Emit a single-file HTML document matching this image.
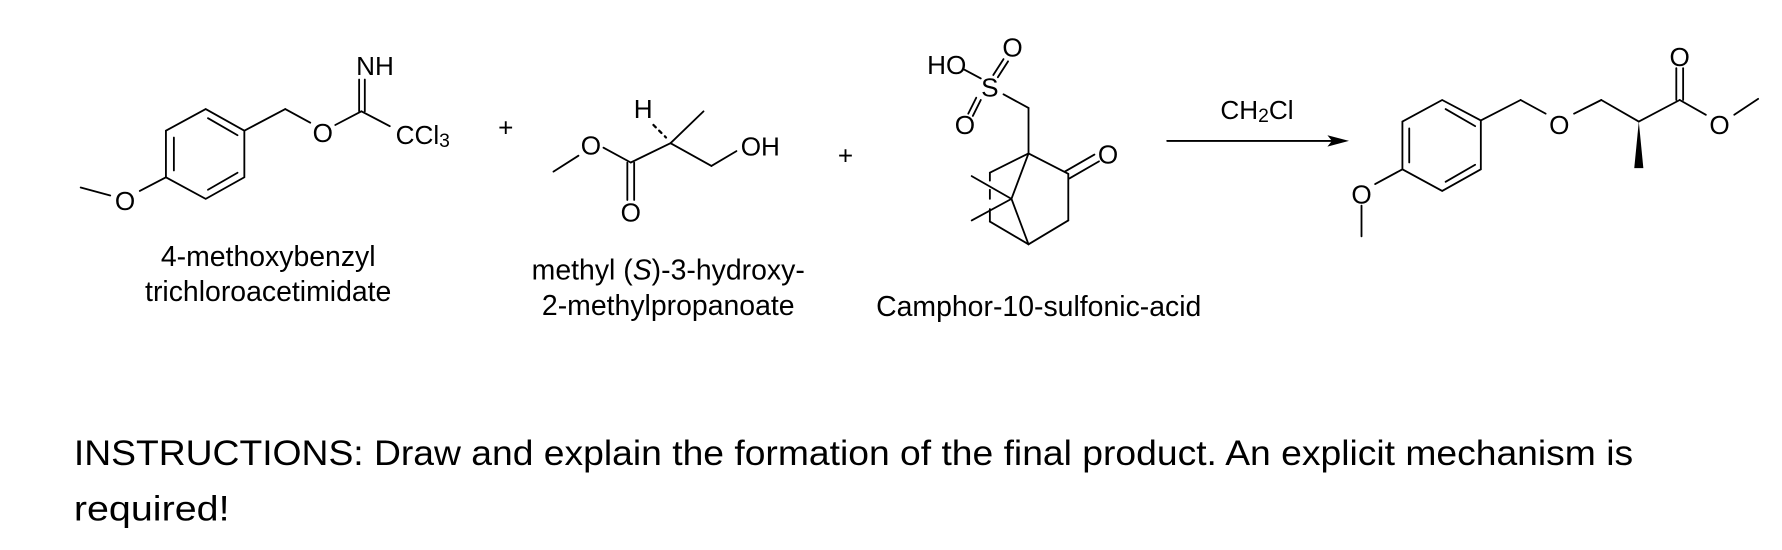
<!DOCTYPE html>
<html><head><meta charset="utf-8"><style>
html,body{margin:0;padding:0;background:#fff;}
svg{display:block;}
text{font-family:"Liberation Sans",Arial,sans-serif;fill:#000;}
</style></head><body>
<svg width="1782" height="550" viewBox="0 0 1568 484" preserveAspectRatio="none" xmlns="http://www.w3.org/2000/svg">
<g stroke="#000" stroke-width="1.6" fill="none" stroke-linecap="round">
<polygon points="181,96 215,115 215,156 181,175 146,156 146,115"/>
<line x1="153" y1="121" x2="153" y2="150"/>
<line x1="183" y1="104" x2="209" y2="119"/>
<line x1="183" y1="167" x2="209" y2="152"/>
<line x1="146" y1="156" x2="123" y2="168"/>
<line x1="97" y1="172" x2="71" y2="165"/>
<line x1="215" y1="115" x2="251" y2="96"/>
<line x1="251" y1="96" x2="273" y2="108"/>
<line x1="295" y1="110" x2="318" y2="98"/>
<line x1="316" y1="98" x2="316" y2="70"/>
<line x1="321" y1="98" x2="321" y2="70"/>
<line x1="318" y1="98" x2="343" y2="111"/>
<line x1="487" y1="151" x2="509" y2="137"/>
<line x1="531" y1="130" x2="555" y2="143"/>
<line x1="552" y1="143" x2="552" y2="176"/>
<line x1="558" y1="143" x2="558" y2="176"/>
<line x1="555" y1="143" x2="590" y2="126"/>
<line x1="590" y1="126" x2="619" y2="98"/>
<line x1="590" y1="126" x2="626" y2="146"/>
<line x1="626" y1="146" x2="648" y2="133"/>
<line x1="585" y1="120" x2="586" y2="121" stroke-width="2"/>
<line x1="580" y1="115" x2="582" y2="117" stroke-width="2"/>
<line x1="575" y1="110" x2="577" y2="112" stroke-width="2"/>
<line x1="848" y1="61" x2="863" y2="69"/>
<line x1="874" y1="66" x2="883" y2="52"/>
<line x1="878" y1="68" x2="887" y2="54"/>
<line x1="859" y1="86" x2="852" y2="100"/>
<line x1="863" y1="88" x2="856" y2="102"/>
<line x1="883" y1="83" x2="905" y2="95"/>
<line x1="905" y1="95" x2="905" y2="135"/>
<line x1="905" y1="135" x2="940" y2="153"/>
<line x1="937" y1="151" x2="963" y2="136"/>
<line x1="941" y1="157" x2="967" y2="142"/>
<line x1="940" y1="153" x2="940" y2="194"/>
<line x1="940" y1="194" x2="905" y2="215"/>
<line x1="905" y1="215" x2="871" y2="195"/>
<line x1="871" y1="195" x2="871" y2="184"/>
<line x1="871" y1="175" x2="871" y2="167"/>
<line x1="871" y1="159" x2="871" y2="152"/>
<line x1="871" y1="152" x2="905" y2="135"/>
<line x1="905" y1="135" x2="890" y2="175"/>
<line x1="890" y1="175" x2="905" y2="215"/>
<line x1="890" y1="175" x2="855" y2="155"/>
<line x1="890" y1="175" x2="855" y2="194"/>
<line x1="1027" y1="124" x2="1175" y2="124"/>
<polygon points="1269,88 1303,106 1303,149 1269,168 1234,149 1234,107"/>
<line x1="1240" y1="113" x2="1240" y2="143"/>
<line x1="1272" y1="96" x2="1298" y2="111"/>
<line x1="1272" y1="160" x2="1298" y2="145"/>
<line x1="1234" y1="149" x2="1210" y2="162"/>
<line x1="1198" y1="181" x2="1198" y2="208"/>
<line x1="1303" y1="106" x2="1338" y2="88"/>
<line x1="1338" y1="88" x2="1360" y2="100"/>
<line x1="1385" y1="100" x2="1409" y2="88"/>
<line x1="1409" y1="88" x2="1442" y2="107"/>
<line x1="1442" y1="107" x2="1478" y2="88"/>
<line x1="1475" y1="88" x2="1475" y2="60"/>
<line x1="1481" y1="88" x2="1481" y2="60"/>
<line x1="1478" y1="88" x2="1501" y2="101"/>
<line x1="1526" y1="101" x2="1547" y2="87"/>
</g>
<polygon points="1187,124 1168,119 1172,124 1168,129" fill="#000"/>
<polygon points="1442,107 1438,148 1446,148" fill="#000"/>
<g font-size="23" text-anchor="middle" dominant-baseline="central">
<text x="110" y="177">O</text>
<text x="284" y="117">O</text>
<text x="330" y="58">NH</text>
<text x="372" y="119">CCl<tspan font-size="17" dy="5">3</tspan></text>
<text x="445" y="112">+</text>
<text x="520" y="128">O</text>
<text x="555" y="187">O</text>
<text x="566" y="96">H</text>
<text x="669" y="129">OH</text>
<text x="744" y="137">+</text>
<text x="833" y="57">HO</text>
<text x="871" y="77">S</text>
<text x="891" y="42">O</text>
<text x="849" y="110">O</text>
<text x="975" y="136">O</text>
<text x="1106" y="97">CH<tspan font-size="17" dy="5">2</tspan><tspan dy="-5">Cl</tspan></text>
<text x="1198" y="171">O</text>
<text x="1372" y="110">O</text>
<text x="1478" y="50">O</text>
<text x="1513" y="110">O</text>
</g>
<g font-size="25" text-anchor="middle">
<text x="236" y="234">4-methoxybenzyl</text>
<text x="236" y="265">trichloroacetimidate</text>
<text x="588" y="246">methyl (<tspan font-style="italic">S</tspan>)-3-hydroxy-</text>
<text x="588" y="277">2-methylpropanoate</text>
<text x="914" y="278">Camphor-10-sulfonic-acid</text>
</g>
<text x="65" y="409" font-size="31" textLength="1372" lengthAdjust="spacingAndGlyphs">INSTRUCTIONS: Draw and explain the formation of the final product. An explicit mechanism is</text>
<text x="65" y="458" font-size="31" textLength="137" lengthAdjust="spacingAndGlyphs">required!</text>
</svg>
</body></html>
